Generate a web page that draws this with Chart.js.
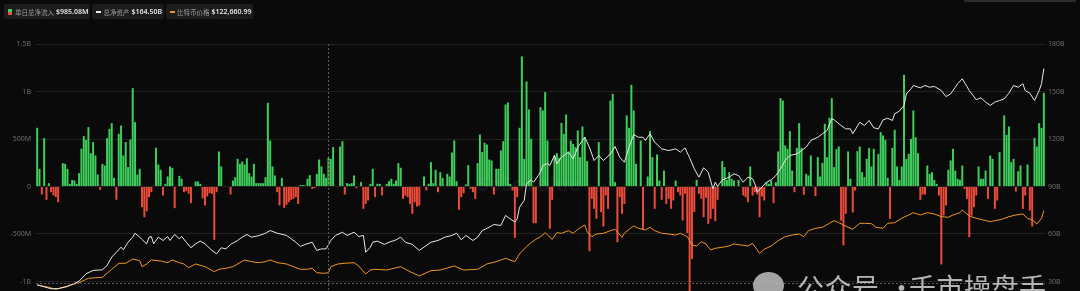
<!DOCTYPE html>
<html>
<head>
<meta charset="utf-8">
<script src="https://cdn.jsdelivr.net/npm/chart.js@4.4.1/dist/chart.umd.min.js"></script>
<style>
  html, body { margin: 0; padding: 0; background: #0a0a0a; width: 1080px; height: 291px; overflow: hidden;
    font-family: "Noto Sans", "Noto Sans CJK SC", sans-serif; }
  #c { position: absolute; left: 0; top: 0; }
  .legend { position: absolute; top: 4px; left: 4px; display: flex; gap: 2px; }
  .pill { background: #1c1c1c; border-radius: 2px; height: 15px; display: flex; align-items: center;
    padding: 0 2px 0 4px; font-size: 6.5px; color: #9c9c9c; font-family: "Noto Sans CJK SC", sans-serif; }
  .pill b { color: #e4e4e4; font-size: 7px; margin-left: 2px; font-weight: 600; font-family: "Noto Sans", sans-serif; }
  .ico { width: 4px; height: 6px; margin-right: 3px; background: linear-gradient(#3fcf5c 50%, #ee4b3b 50%); }
  .dash { width: 5px; height: 2px; margin-right: 2px; }
  .topbar { position: absolute; top: 0; left: 964px; width: 112px; height: 2px; background: #2c2c2c; }
  .mark { position: absolute; color: rgba(205,205,205,0.88); font-family: "Noto Sans CJK SC", sans-serif;
    font-size: 27px; line-height: 30px; top: 272px; white-space: nowrap; letter-spacing: 0.5px; }
  .wx { position: absolute; left: 753px; top: 272px; width: 31px; height: 27px; border-radius: 50%; background: rgba(190,190,190,0.85); }
  .soso { position: absolute; left: 478px; top: 170px; font: bold 20px "Noto Sans", sans-serif; color: rgba(255,255,255,0.05); }
</style>
</head>
<body>
<canvas id="c" width="1080" height="291"></canvas>
<div class="soso">SoSoValue</div>
<div class="legend">
  <div class="pill"><span class="ico"></span>单日总净流入<b>$985.08M</b></div>
  <div class="pill"><span class="dash" style="background:#e9e9e9"></span>总净资产<b>$164.50B</b></div>
  <div class="pill"><span class="dash" style="background:#f0962a"></span>比特币价格<b>$122,660.99</b></div>
</div>
<div class="topbar"></div>
<div class="wx"></div>
<div class="mark" style="left:797px">公众号</div>
<div class="mark" style="left:888px">·</div>
<div class="mark" style="left:909px">千市操盘手</div>
<script>
// daily net flow, million USD (one bar per trading day)
const flowsM = [
  618,186,-84,509,-140,35,-60,-95,-112,-165,5,246,239,186,28,70,63,28,140,397,530,491,625,351,467,326,126,-35,239,221,509,607,667,91,-140,555,642,326,467,204,495,1035,677,126,186,-218,-323,-260,-112,-60,5,407,232,176,-95,28,105,211,197,-228,5,112,81,-60,-49,-77,-175,5,53,53,28,-123,
  -200,-105,-70,-77,-562,-60,369,211,-5,5,5,-84,63,98,291,239,263,232,298,140,105,239,35,35,35,35,98,881,484,211,116,-60,-200,91,-225,-193,-165,-140,-130,-112,-183,15,15,10,81,119,-25,-18,133,284,211,133,91,302,291,414,5,5,421,477,-84,35,28,35,116,-18,5,46,-235,-183,-147,28,186,-112,
  28,28,-95,5,28,56,81,28,63,246,197,-130,-95,-112,-183,-288,-165,-211,-200,5,105,-42,28,256,35,176,-60,151,91,5,133,105,358,484,56,-246,-112,-70,21,225,-25,-60,-130,246,548,362,460,442,284,274,-84,186,186,379,477,863,885,28,-42,-541,-112,618,1369,291,1106,811,502,-386,-386,5,835,800,993,
  484,-446,-140,326,351,302,670,555,758,369,484,449,414,590,309,632,519,267,-681,-130,-235,-340,467,-270,-421,-95,-235,905,976,46,-586,-112,-288,-183,748,618,1070,800,239,5,484,-446,5,105,583,309,-235,337,63,-140,168,-183,-130,-235,-147,63,-60,-95,-358,-77,-491,-1140,-762,-270,70,-77,-130,-323,-119,-393,-340,-235,-365,
  -140,5,267,204,70,151,81,63,5,70,5,-95,-112,-165,211,-95,-60,-84,-323,-105,-147,46,28,63,-175,46,369,930,905,432,397,583,168,-60,407,667,407,-88,133,116,326,5,-102,309,105,249,660,309,723,930,204,393,421,-358,-621,-288,369,81,-274,-42,372,421,151,98,291,404,211,397,5,344,572,537,
  491,91,-340,407,597,211,70,211,1176,291,344,502,800,519,351,-140,-84,-84,221,133,151,70,28,-95,-821,-305,-200,176,274,397,168,81,70,221,-25,-130,-534,-305,-218,-95,211,81,81,168,-130,326,291,-235,-147,362,5,748,544,632,256,291,-53,161,221,-235,-95,232,-253,-421,512,421,667,618,985.08
];

// total net assets, billion USD, sampled as [day index, value]
const assetPts = [
  [0,27.9],[6,25.4],[9,25.5],[13,26.8],[18,30.2],[21,34.9],[24,37.0],[28,37.4],[30,40.1],[32,45.4],[34,48.5],[36,51.7],[37,50.0],[39,54.8],[41,58.0],[42,60.5],[44,58.0],[45,56.5],[47,53.8],[48,58.0],[49,58.4],[50,53.8],[52,58.0],[54,55.9],[56,58.4],[57,55.9],[59,59.7],[61,57.0],[62,58.4],[64,54.8],[66,51.3],[68,53.8],[70,55.5],[72,53.8],
  [75,49.6],[77,47.5],[79,51.3],[81,50.6],[83,53.4],[86,55.9],[88,58.0],[90,59.7],[92,58.0],[95,58.9],[98,60.5],[100,62.2],[103,60.5],[107,59.1],[109,57.0],[111,54.8],[113,52.1],[115,53.4],[118,54.8],[120,49.6],[122,50.6],[124,50.6],[126,55.9],[128,59.1],[131,61.1],[133,59.1],[136,61.1],[138,58.4],[140,59.1],[141,48.5],[143,51.7],[144,54.8],
  [146,55.5],[149,53.4],[151,54.8],[154,56.3],[156,58.0],[158,54.8],[161,53.4],[164,49.6],[166,51.7],[169,54.8],[172,55.9],[175,58.0],[178,59.1],[180,60.5],[182,56.3],[184,59.1],[187,55.9],[189,58.0],[191,62.2],[194,64.3],[196,66.0],[199,65.4],[201,71.7],[202,70.6],[205,67.5],[206,69.6],[207,76.9],[209,81.2],[210,91.7],[212,94.2],[213,92.7],[215,96.9],[216,99.0],[217,103.3],[219,104.5],
  [220,103.3],[222,109.6],[223,104.3],[225,108.5],[228,111.7],[230,107.5],[232,114.8],[234,119.1],[235,121.1],[237,114.8],[239,106.4],[241,109.6],[243,106.4],[246,110.6],[248,115.3],[250,108.5],[252,105.3],[254,114.8],[256,122.8],[258,121.1],[260,121.1],[261,119.1],[263,123.3],[265,118.0],[268,113.8],[271,112.7],[274,113.8],[276,111.7],[278,114.4],[280,108.1],[282,101.2],[284,95.9],[286,101.8],[288,99.0],[290,88.5],[291,92.7],[292,90.0],
  [294,94.2],[297,95.9],[299,98.0],[301,96.9],[303,92.7],[305,95.9],[307,94.9],[308,91.7],[309,86.4],[311,89.6],[313,92.7],[315,94.2],[317,96.9],[319,101.2],[321,106.4],[323,109.6],[326,110.6],[328,112.7],[330,114.8],[332,119.1],[335,121.1],[337,123.3],[339,125.4],[341,132.8],[342,132.1],[345,128.5],[347,126.4],[349,126.4],[350,123.3],[353,130.6],[355,128.5],[357,131.7],[359,127.1],[361,126.4],[363,132.1],[365,133.1],
  [367,131.7],[368,135.9],[370,137.6],[372,141.2],[373,148.5],[375,151.7],[376,153.8],[379,152.3],[381,153.8],[383,152.7],[385,153.2],[388,150.6],[390,146.8],[392,148.5],[394,152.7],[395,154.9],[397,158.0],[399,153.2],[400,150.6],[403,144.8],[405,146.0],[407,143.3],[409,141.2],[411,143.3],[413,144.3],[415,145.4],[417,148.9],[419,153.8],[421,152.7],[423,154.9],[424,150.6],[426,148.9],[428,144.3],[430,150.6],[431,154.9],[432,164.5]
];

// bitcoin price, USD, sampled as [day index, value]
const pricePts = [
  [0,43780],[5,41340],[8,39220],[13,42720],[18,46220],[22,50900],[28,51960],[32,60450],[35,66820],[38,66820],[41,71390],[44,69580],[45,63210],[47,66080],[49,70320],[53,69260],[56,67480],[58,70320],[61,67480],[63,66080],[65,62150],[68,66080],[71,63950],
  [72,63210],[76,57900],[78,60450],[81,61510],[84,63210],[87,67480],[89,70320],[92,68520],[95,67480],[98,68520],[100,70320],[103,67480],[107,66080],[110,63210],[113,60450],[116,60450],[118,61510],[120,56840],[123,56200],[125,56840],[126,63210],[129,66080],[132,66820],[136,67480],[138,63950],[141,55460],[143,59700],[145,60450],
  [150,59700],[156,63210],[160,57900],[164,53340],[169,58960],[173,59700],[179,63950],[183,59700],[189,60450],[193,66080],[197,68520],[201,72120],[205,68520],[207,76690],[210,84440],[212,88690],[214,92300],[216,95060],[218,99300],
  [221,92300],[223,99300],[225,98670],[228,101430],[230,98670],[232,102910],[235,107480],[236,100370],[238,95060],[240,97920],[243,98670],[246,101430],[248,102910],[251,94420],[252,98670],[254,102910],[256,106420],[258,103970],[261,102170],[263,105030],[265,101430],[268,98670],[271,97920],[274,96860],[276,98670],[279,95060],[281,86250],[283,85170],[285,89750],[287,87310],[289,80940],[291,82740],
  [294,83800],[297,85170],[299,87310],[302,86250],[305,85170],[307,88050],[309,80940],[310,77440],[312,81680],[315,85170],[318,90810],[321,95060],[324,96860],[327,97920],[329,95060],[331,101430],[334,103970],[337,105030],[340,109280],[342,112040],[344,109920],[346,107480],[348,105030],[350,102910],[353,109280],[355,109280],[358,108860],[360,105030],[363,103970],[365,109280],
  [368,109920],[371,114590],[374,118100],[376,120540],[379,118100],[382,120540],[385,119160],[388,116290],[391,115650],[393,118100],[396,120540],[397,123400],[400,117030],[403,114590],[406,112790],[409,110980],[411,112040],[414,113530],[417,116290],[420,118100],[423,119160],[425,114590],[427,112790],[429,108540],[431,114590],[432,122660.99]
];

const leftTicks = [-1e9, -5e8, 0, 5e8, 1e9, 1.5e9];
const rightTicks = [30, 60, 90, 120, 150, 180];

// hover crosshair position (day index, flow value)
const crossIdx = 125;
const crossFlow = -1.02e9;

const GREEN = '#3fcf5c';
const RED = '#ee4b3b';
const TICK = { color: '#6c6c6c', font: { family: 'Noto Sans', size: 7 } };

// put the sampled points on the day axis, other days left empty (spanGaps joins them)
function onDays(pts) {
  const arr = flowsM.map(() => null);
  pts.forEach(([i, v]) => { arr[Math.min(arr.length - 1, i)] = v; });
  return arr;
}

function fmtFlow(v) {
  if (v === 0) return '0';
  if (Math.abs(v) >= 1e9) return (v / 1e9) + 'B';
  return (v / 1e6) + 'M';
}

const crosshair = {
  id: 'crosshair',
  afterDatasetsDraw(chart) {
    const { ctx, chartArea, scales } = chart;
    const x = scales.x.getPixelForValue(crossIdx);
    const y = scales.y.getPixelForValue(crossFlow);
    ctx.save();
    ctx.strokeStyle = '#5a5a5a';
    ctx.lineWidth = 1;
    ctx.setLineDash([2, 2]);
    ctx.beginPath();
    ctx.moveTo(Math.round(x) + 0.5, chartArea.top);
    ctx.lineTo(Math.round(x) + 0.5, chartArea.bottom);
    ctx.moveTo(chartArea.left, Math.round(y) + 0.5);
    ctx.lineTo(chartArea.right, Math.round(y) + 0.5);
    ctx.stroke();
    ctx.restore();
  }
};

new Chart(document.getElementById('c'), {
  type: 'bar',
  data: {
    labels: flowsM.map((_, i) => i),
    datasets: [
      {
        type: 'line', label: '总净资产', order: 1,
        data: onDays(assetPts), spanGaps: true,
        yAxisID: 'yr',
        borderColor: '#e9e9e9', borderWidth: 1, pointRadius: 0, tension: 0
      },
      {
        type: 'line', label: '比特币价格', order: 2,
        data: onDays(pricePts), spanGaps: true,
        yAxisID: 'yp',
        borderColor: '#f0962a', borderWidth: 1, pointRadius: 0, tension: 0
      },
      {
        type: 'bar', label: '单日总净流入', order: 3,
        data: flowsM.map(v => v * 1e6),
        backgroundColor: flowsM.map(v => v >= 0 ? GREEN : RED),
        barPercentage: 0.85, categoryPercentage: 1,
        yAxisID: 'y'
      }
    ]
  },
  options: {
    responsive: false,
    animation: false,
    layout: { padding: { top: 44, left: 0, right: 0, bottom: 0 } },
    plugins: { legend: { display: false }, tooltip: { enabled: false } },
    scales: {
      x: { display: false, offset: true },
      y: {
        position: 'left', min: -1.1e9, max: 1.5e9,
        afterBuildTicks: s => { s.ticks = leftTicks.map(v => ({ value: v })); },
        afterFit: s => { s.width = 36; s.paddingTop = 0; s.paddingBottom = 0; },
        grid: { color: '#222222', drawTicks: false },
        border: { display: false },
        ticks: { ...TICK, padding: 5, callback: fmtFlow }
      },
      yr: {
        position: 'right', min: 24, max: 180,
        afterBuildTicks: s => { s.ticks = rightTicks.map(v => ({ value: v })); },
        afterFit: s => { s.width = 35; s.paddingTop = 0; s.paddingBottom = 0; },
        grid: { drawOnChartArea: false, drawTicks: false },
        border: { display: false },
        ticks: { ...TICK, padding: 3, callback: v => v + 'B' }
      },
      yp: { display: false, min: 37400, max: 299600 }
    }
  },
  plugins: [crosshair]
});
</script>
</body>
</html>
